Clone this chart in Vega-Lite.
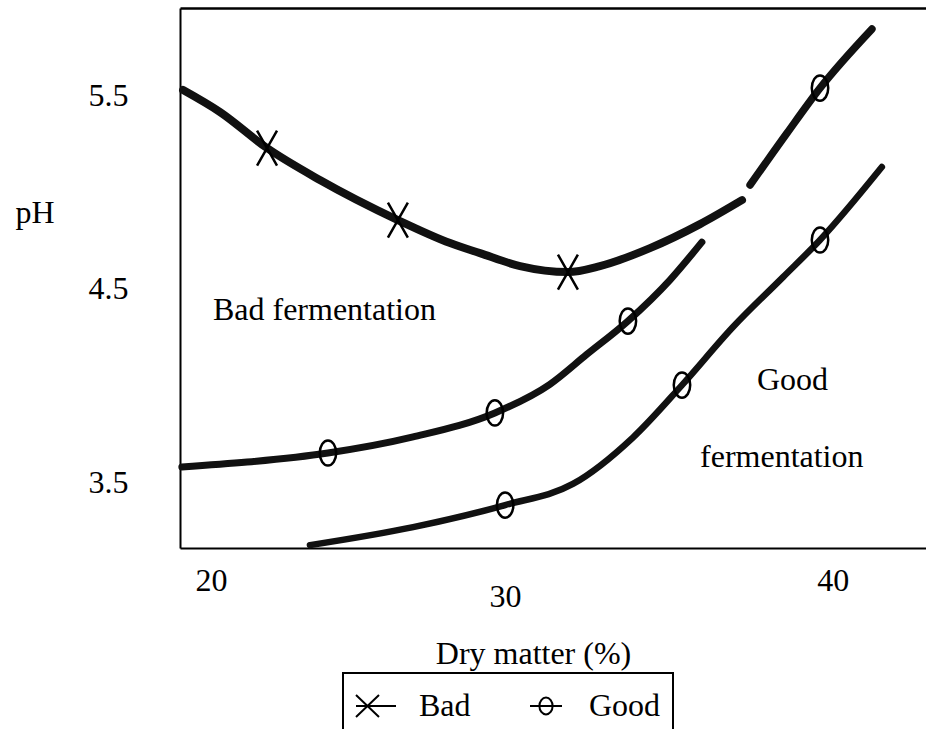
{
  "$schema": "https://vega.github.io/schema/vega-lite/v6.json",
  "width": 746,
  "height": 540,
  "autosize": {"type": "none"},
  "padding": {"left": 180, "top": 8, "right": 0, "bottom": 181},
  "background": "white",
  "config": {
    "view": {"stroke": null},
    "font": "Liberation Serif",
    "legend": {"strokeWidth": 2}
  },
  "datasets": {
    "curves": [
      {"curve": "bad", "dm": 19.10, "ph": 5.526},
      {"curve": "bad", "dm": 20.29, "ph": 5.412},
      {"curve": "bad", "dm": 21.80, "ph": 5.226},
      {"curve": "bad", "dm": 23.50, "ph": 5.061},
      {"curve": "bad", "dm": 26.01, "ph": 4.854},
      {"curve": "bad", "dm": 27.69, "ph": 4.735},
      {"curve": "bad", "dm": 28.65, "ph": 4.683},
      {"curve": "bad", "dm": 29.94, "ph": 4.616},
      {"curve": "bad", "dm": 31.48, "ph": 4.585},
      {"curve": "bad", "dm": 32.51, "ph": 4.616},
      {"curve": "bad", "dm": 34.12, "ph": 4.709},
      {"curve": "bad", "dm": 35.73, "ph": 4.833},
      {"curve": "bad", "dm": 37.08, "ph": 4.957},
      {"curve": "good_top", "dm": 37.34, "ph": 5.035},
      {"curve": "good_top", "dm": 38.53, "ph": 5.304},
      {"curve": "good_top", "dm": 39.59, "ph": 5.536},
      {"curve": "good_top", "dm": 41.26, "ph": 5.841},
      {"curve": "good_mid", "dm": 19.06, "ph": 3.578},
      {"curve": "good_mid", "dm": 21.16, "ph": 3.603},
      {"curve": "good_mid", "dm": 23.76, "ph": 3.650},
      {"curve": "good_mid", "dm": 26.50, "ph": 3.733},
      {"curve": "good_mid", "dm": 29.13, "ph": 3.857},
      {"curve": "good_mid", "dm": 30.90, "ph": 4.005},
      {"curve": "good_mid", "dm": 32.09, "ph": 4.160},
      {"curve": "good_mid", "dm": 33.41, "ph": 4.332},
      {"curve": "good_mid", "dm": 34.76, "ph": 4.544},
      {"curve": "good_mid", "dm": 35.79, "ph": 4.740},
      {"curve": "good_low", "dm": 23.18, "ph": 3.174},
      {"curve": "good_low", "dm": 26.50, "ph": 3.267},
      {"curve": "good_low", "dm": 29.46, "ph": 3.381},
      {"curve": "good_low", "dm": 31.64, "ph": 3.490},
      {"curve": "good_low", "dm": 33.57, "ph": 3.730},
      {"curve": "good_low", "dm": 35.15, "ph": 4.001},
      {"curve": "good_low", "dm": 36.79, "ph": 4.301},
      {"curve": "good_low", "dm": 38.40, "ph": 4.559},
      {"curve": "good_low", "dm": 39.59, "ph": 4.751},
      {"curve": "good_low", "dm": 41.58, "ph": 5.128}
    ],
    "markers": [
      {"series": "Bad", "dm": 21.80, "ph": 5.226},
      {"series": "Bad", "dm": 26.01, "ph": 4.854},
      {"series": "Bad", "dm": 31.48, "ph": 4.585},
      {"series": "Good", "dm": 23.76, "ph": 3.650},
      {"series": "Good", "dm": 29.13, "ph": 3.857},
      {"series": "Good", "dm": 33.41, "ph": 4.332},
      {"series": "Good", "dm": 29.46, "ph": 3.381},
      {"series": "Good", "dm": 35.15, "ph": 4.001},
      {"series": "Good", "dm": 39.59, "ph": 4.751},
      {"series": "Good", "dm": 39.59, "ph": 5.536}
    ],
    "labels": [
      {"text": "Bad fermentation", "dm": 20.06, "ph": 4.337},
      {"text": "Good", "dm": 37.56, "ph": 3.975},
      {"text": "fermentation", "dm": 35.73, "ph": 3.578}
    ]
  },
  "layer": [
    {
      "data": {"name": "curves"},
      "mark": {"type": "line", "interpolate": "monotone", "color": "#111111", "strokeCap": "round"},
      "encoding": {
        "x": {
          "field": "dm", "type": "quantitative",
          "scale": {"domain": [19, 43], "nice": false, "zero": false},
          "axis": {
            "values": [20, 30, 40], "format": "d", "grid": false, "ticks": false, "tickSize": 0,
            "domain": true, "domainColor": "black", "domainWidth": 2,
            "labelFont": "Liberation Serif", "labelFontSize": 32, "labelColor": "black",
            "labelBaseline": "top", "labelFlush": false,
            "labelPadding": {"condition": {"test": "datum.value === 30", "value": 33}, "value": 17},
            "labelOffset": {"condition": {"test": "datum.value === 30", "value": -17}, "value": 0},
            "title": "Dry matter (%)", "titleFont": "Liberation Serif", "titleFontSize": 32,
            "titleFontWeight": "normal", "titleColor": "black",
            "titleX": 353, "titleY": 115, "titleBaseline": "alphabetic", "titleAlign": "center"
          }
        },
        "y": {
          "field": "ph", "type": "quantitative",
          "scale": {"domain": [3.159, 5.95], "nice": false, "zero": false},
          "axis": {
            "values": [3.5, 4.5, 5.5], "format": ".1f", "grid": false, "ticks": false, "tickSize": 0,
            "domain": true, "domainColor": "black", "domainWidth": 2,
            "labelFont": "Liberation Serif", "labelFontSize": 32, "labelColor": "black",
            "labelPadding": 52, "labelBaseline": "middle", "labelFlush": false,
            "title": "pH", "titleFont": "Liberation Serif", "titleFontSize": 32,
            "titleFontWeight": "normal", "titleColor": "black", "titleAngle": 0,
            "titleAlign": "left", "titleBaseline": "alphabetic", "titleX": -165, "titleY": 214
          }
        },
        "detail": {"field": "curve"},
        "strokeWidth": {
          "field": "curve", "type": "nominal",
          "scale": {"domain": ["bad", "good_top", "good_mid", "good_low"], "range": [8, 6.5, 4.5, 3]},
          "legend": null
        }
      }
    },
    {
      "data": {"name": "markers"},
      "mark": {"type": "point", "filled": false, "color": "black", "strokeWidth": 2.5, "opacity": 1, "size": 1225},
      "encoding": {
        "x": {"field": "dm", "type": "quantitative", "axis": null},
        "y": {"field": "ph", "type": "quantitative"},
        "shape": {
          "field": "series", "type": "nominal",
          "scale": {"domain": ["Bad", "Good"], "range": ["M-0.57,-1L0.57,1M0.57,-1L-0.57,1", "M0,-0.72A0.47,0.72 0 1 1 0,0.72A0.47,0.72 0 1 1 0,-0.72Z"]},
          "legend": null
        }
      }
    },
    {
      "data": {"name": "markers"},
      "transform": [{"filter": "false"}],
      "mark": {"type": "point", "filled": false, "color": "black", "strokeWidth": 2, "opacity": 1},
      "encoding": {
        "x": {"field": "dm", "type": "quantitative", "axis": null},
        "y": {"field": "ph", "type": "quantitative"},
        "shape": {
          "field": "series", "type": "nominal",
          "scale": {"domain": ["Bad", "Good"], "range": ["M-1,-0.55L0.15,0.55M-1,0.55L0.15,-0.55M-1,0L1,0", "M-0.8,0L0.8,0M0,-0.42A0.33,0.42 0 1 1 0,0.42A0.33,0.42 0 1 1 0,-0.42Z"]},
          "legend": {
            "title": null, "orient": "none", "legendX": 163, "legendY": 665, "direction": "horizontal",
            "symbolSize": 1600, "symbolStrokeWidth": 2, "symbolStrokeColor": "black",
            "labelFont": "Liberation Serif", "labelFontSize": 32, "labelColor": "black",
            "labelOffset": 22, "columnPadding": 54, "padding": 12,
            "strokeColor": "black", "fillColor": "white"
          }
        }
      }
    },
    {
      "data": {"name": "labels"},
      "mark": {"type": "text", "font": "Liberation Serif", "fontSize": 32, "color": "black", "align": "left", "baseline": "alphabetic"},
      "encoding": {
        "x": {
          "field": "dm", "type": "quantitative",
          "axis": {"orient": "top", "labels": false, "ticks": false, "title": null, "grid": false, "domain": true, "domainColor": "black", "domainWidth": 2.5}
        },
        "y": {"field": "ph", "type": "quantitative"},
        "text": {"field": "text"}
      }
    }
  ],
  "resolve": {
    "scale": {"shape": "independent"},
    "axis": {"x": "independent"},
    "legend": {"shape": "independent"}
  }
}
